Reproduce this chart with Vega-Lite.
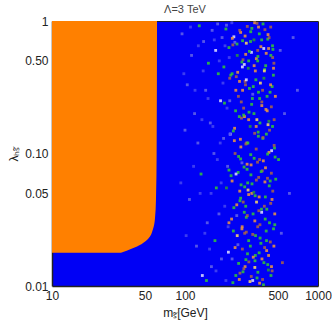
{
  "$schema": "https://vega.github.io/schema/vega-lite/v6.json",
  "width": 266,
  "height": 265,
  "autosize": {"type": "none"},
  "padding": {"left": 52, "top": 21, "right": 14, "bottom": 42},
  "title": {"text": "Λ=3 TeV", "font": "Liberation Sans", "fontSize": 11, "fontWeight": "normal", "color": "#444444", "offset": 0},
  "config": {
    "view": {"fill": "#0000f5", "stroke": null},
    "axis": {"labelFont": "Liberation Sans", "labelFontSize": 12, "labelColor": "#222222", "titleFont": "Liberation Sans", "titleFontSize": 12, "titleFontWeight": "normal", "titleColor": "#222222", "domainColor": "#222222", "domainWidth": 1.5, "ticks": false, "grid": false, "labelFlush": false, "labelOverlap": false, "labelBound": false, "zindex": 1}
  },
  "resolve": {"axis": {"x": "independent", "y": "independent"}},
  "layer": [
    {
      "data": {"values": [
        {"l": 0.0178, "x0": 10, "x1": 33},
        {"l": 0.0192, "x0": 10, "x1": 40},
        {"l": 0.0207, "x0": 10, "x1": 47},
        {"l": 0.0226, "x0": 10, "x1": 52.7},
        {"l": 0.0268, "x0": 10, "x1": 57.4},
        {"l": 0.0319, "x0": 10, "x1": 59.4},
        {"l": 0.045, "x0": 10, "x1": 60.5},
        {"l": 0.1, "x0": 10, "x1": 61.2},
        {"l": 1, "x0": 10, "x1": 61.6}
      ]},
      "mark": {"type": "area", "orient": "horizontal", "color": "#ff8000", "interpolate": "monotone"},
      "encoding": {
        "y": {"field": "l", "type": "quantitative", "scale": {"type": "log", "domain": [0.01, 1]},
              "axis": {"values": [0.01, 0.05, 0.1, 0.5, 1], "labelExpr": "datum.value >= 1 ? '1' : format(datum.value, '.2f')", "labelPadding": 4, "title": "λₕₛ̃", "titlePadding": 4}},
        "x": {"field": "x0", "type": "quantitative", "scale": {"type": "log", "domain": [10, 1000]},
              "axis": {"values": [10, 50, 100, 500, 1000], "format": "d", "labelPadding": 4, "title": "mₛ̃[GeV]", "titlePadding": 6}},
        "x2": {"field": "x1"}
      }
    },
    {
      "data": {"values": [
        {"m":205,"l":0.93,"c":"a"},{"m":318,"l":0.88,"c":"g"},{"m":262,"l":0.82,"c":"o"},{"m":441,"l":0.9,"c":"r"},
        {"m":233,"l":0.76,"c":"w"},{"m":377,"l":0.72,"c":"g"},{"m":289,"l":0.68,"c":"y"},{"m":214,"l":0.63,"c":"g"},
        {"m":352,"l":0.6,"c":"r"},{"m":408,"l":0.57,"c":"o"},{"m":247,"l":0.55,"c":"d"},{"m":301,"l":0.5,"c":"g"},
        {"m":466,"l":0.48,"c":"r"},{"m":270,"l":0.45,"c":"w"},{"m":338,"l":0.42,"c":"o"},{"m":226,"l":0.4,"c":"g"},
        {"m":392,"l":0.37,"c":"d"},{"m":283,"l":0.35,"c":"r"},{"m":452,"l":0.32,"c":"g"},{"m":241,"l":0.3,"c":"o"},
        {"m":323,"l":0.28,"c":"a"},{"m":364,"l":0.26,"c":"g"},{"m":198,"l":0.24,"c":"g"},{"m":276,"l":0.22,"c":"r"},
        {"m":415,"l":0.21,"c":"o"},{"m":256,"l":0.19,"c":"g"},{"m":347,"l":0.18,"c":"y"},{"m":309,"l":0.16,"c":"d"},
        {"m":432,"l":0.15,"c":"r"},{"m":219,"l":0.14,"c":"w"},{"m":385,"l":0.13,"c":"g"},{"m":292,"l":0.12,"c":"o"},
        {"m":471,"l":0.11,"c":"g"},{"m":238,"l":0.1,"c":"r"},{"m":331,"l":0.092,"c":"g"},{"m":268,"l":0.085,"c":"a"},
        {"m":403,"l":0.078,"c":"o"},{"m":251,"l":0.072,"c":"g"},{"m":358,"l":0.066,"c":"r"},{"m":296,"l":0.06,"c":"g"},
        {"m":205,"l":0.055,"c":"d"},{"m":318,"l":0.05,"c":"o"},{"m":262,"l":0.046,"c":"g"},{"m":441,"l":0.042,"c":"r"},
        {"m":233,"l":0.039,"c":"g"},{"m":377,"l":0.036,"c":"w"},{"m":289,"l":0.033,"c":"g"},{"m":214,"l":0.03,"c":"o"},
        {"m":352,"l":0.028,"c":"r"},{"m":408,"l":0.026,"c":"g"},{"m":247,"l":0.024,"c":"y"},{"m":301,"l":0.022,"c":"g"},
        {"m":466,"l":0.02,"c":"o"},{"m":270,"l":0.019,"c":"r"},{"m":338,"l":0.017,"c":"g"},{"m":226,"l":0.016,"c":"a"},
        {"m":392,"l":0.015,"c":"g"},{"m":283,"l":0.014,"c":"o"},{"m":452,"l":0.013,"c":"r"},{"m":241,"l":0.012,"c":"g"},
        {"m":323,"l":0.011,"c":"w"},{"m":364,"l":0.0105,"c":"o"},
        {"m":386,"l":0.95,"c":"g"},{"m":258,"l":0.85,"c":"r"},{"m":421,"l":0.79,"c":"o"},{"m":311,"l":0.7,"c":"g"},
        {"m":229,"l":0.66,"c":"r"},{"m":458,"l":0.61,"c":"g"},{"m":344,"l":0.52,"c":"o"},{"m":279,"l":0.47,"c":"w"},
        {"m":397,"l":0.43,"c":"g"},{"m":243,"l":0.38,"c":"r"},{"m":369,"l":0.34,"c":"y"},{"m":305,"l":0.31,"c":"g"},
        {"m":478,"l":0.27,"c":"o"},{"m":265,"l":0.245,"c":"r"},{"m":330,"l":0.2,"c":"g"},{"m":427,"l":0.175,"c":"d"},
        {"m":236,"l":0.155,"c":"o"},{"m":356,"l":0.135,"c":"g"},{"m":287,"l":0.118,"c":"r"},{"m":448,"l":0.105,"c":"w"},
        {"m":253,"l":0.095,"c":"g"},{"m":314,"l":0.082,"c":"o"},{"m":381,"l":0.074,"c":"r"},{"m":222,"l":0.068,"c":"g"},
        {"m":437,"l":0.062,"c":"g"},{"m":298,"l":0.053,"c":"y"},{"m":361,"l":0.047,"c":"o"},{"m":274,"l":0.043,"c":"r"},
        {"m":412,"l":0.038,"c":"g"},{"m":245,"l":0.034,"c":"a"},{"m":335,"l":0.031,"c":"o"},{"m":463,"l":0.027,"c":"g"},
        {"m":281,"l":0.025,"c":"r"},{"m":372,"l":0.021,"c":"g"},{"m":212,"l":0.018,"c":"w"},{"m":326,"l":0.0165,"c":"o"},
        {"m":419,"l":0.0145,"c":"g"},{"m":259,"l":0.0125,"c":"r"},{"m":348,"l":0.0115,"c":"g"},
        {"m":294,"l":0.91,"c":"r"},{"m":362,"l":0.8,"c":"g"},{"m":227,"l":0.74,"c":"o"},{"m":455,"l":0.65,"c":"g"},
        {"m":316,"l":0.58,"c":"w"},{"m":273,"l":0.51,"c":"r"},{"m":404,"l":0.46,"c":"g"},{"m":249,"l":0.41,"c":"o"},
        {"m":341,"l":0.36,"c":"g"},{"m":285,"l":0.33,"c":"r"},{"m":436,"l":0.29,"c":"g"},{"m":217,"l":0.25,"c":"a"},
        {"m":378,"l":0.23,"c":"o"},{"m":303,"l":0.205,"c":"g"},{"m":266,"l":0.185,"c":"r"},{"m":421,"l":0.165,"c":"y"},
        {"m":355,"l":0.145,"c":"g"},{"m":235,"l":0.125,"c":"o"},{"m":468,"l":0.115,"c":"r"},{"m":312,"l":0.098,"c":"g"},
        {"m":388,"l":0.088,"c":"o"},{"m":278,"l":0.079,"c":"g"},{"m":242,"l":0.07,"c":"w"},{"m":344,"l":0.063,"c":"r"},
        {"m":430,"l":0.057,"c":"g"},{"m":301,"l":0.049,"c":"o"},{"m":259,"l":0.044,"c":"g"},{"m":395,"l":0.04,"c":"r"},
        {"m":325,"l":0.035,"c":"g"},{"m":224,"l":0.032,"c":"o"},{"m":473,"l":0.029,"c":"g"},{"m":289,"l":0.0255,"c":"r"},
        {"m":367,"l":0.023,"c":"g"},{"m":250,"l":0.0205,"c":"a"},{"m":411,"l":0.0185,"c":"o"},{"m":336,"l":0.0155,"c":"g"},
        {"m":277,"l":0.0135,"c":"r"},{"m":443,"l":0.012,"c":"g"},{"m":308,"l":0.0108,"c":"y"},
        {"m":334,"l":0.97,"c":"o"},{"m":399,"l":0.86,"c":"r"},{"m":271,"l":0.71,"c":"g"},{"m":425,"l":0.62,"c":"o"},
        {"m":353,"l":0.54,"c":"g"},{"m":299,"l":0.44,"c":"d"},{"m":462,"l":0.39,"c":"g"},{"m":257,"l":0.35,"c":"o"},
        {"m":383,"l":0.3,"c":"r"},{"m":321,"l":0.26,"c":"g"},{"m":446,"l":0.225,"c":"r"},{"m":280,"l":0.19,"c":"o"},
        {"m":366,"l":0.17,"c":"g"},{"m":409,"l":0.14,"c":"g"},{"m":261,"l":0.128,"c":"o"},{"m":343,"l":0.108,"c":"r"},
        {"m":476,"l":0.094,"c":"g"},{"m":293,"l":0.083,"c":"o"},{"m":374,"l":0.073,"c":"g"},{"m":417,"l":0.065,"c":"r"},
        {"m":264,"l":0.058,"c":"g"},{"m":329,"l":0.051,"c":"d"},{"m":451,"l":0.045,"c":"o"},{"m":286,"l":0.04,"c":"g"},
        {"m":359,"l":0.037,"c":"r"},{"m":401,"l":0.032,"c":"g"},{"m":269,"l":0.028,"c":"o"},{"m":339,"l":0.024,"c":"g"},
        {"m":438,"l":0.0215,"c":"r"},{"m":295,"l":0.0175,"c":"g"},{"m":379,"l":0.016,"c":"o"},{"m":253,"l":0.0148,"c":"g"},
        {"m":424,"l":0.0132,"c":"d"},{"m":315,"l":0.0118,"c":"r"},{"m":389,"l":0.0102,"c":"g"},
        {"m":203,"l":0.87,"c":"g"},{"m":348,"l":0.96,"c":"r"},{"m":283,"l":0.77,"c":"o"},{"m":419,"l":0.73,"c":"g"},
        {"m":237,"l":0.69,"c":"a"},{"m":372,"l":0.64,"c":"o"},{"m":305,"l":0.59,"c":"g"},{"m":456,"l":0.53,"c":"r"},
        {"m":268,"l":0.49,"c":"g"},{"m":331,"l":0.46,"c":"o"},{"m":395,"l":0.42,"c":"y"},{"m":221,"l":0.39,"c":"g"},
        {"m":289,"l":0.36,"c":"w"},{"m":440,"l":0.33,"c":"o"},{"m":357,"l":0.29,"c":"g"},{"m":252,"l":0.27,"c":"r"},
        {"m":317,"l":0.235,"c":"g"},{"m":406,"l":0.215,"c":"o"},{"m":276,"l":0.195,"c":"g"},{"m":468,"l":0.18,"c":"r"},
        {"m":343,"l":0.16,"c":"o"},{"m":231,"l":0.148,"c":"g"},{"m":386,"l":0.132,"c":"r"},{"m":297,"l":0.12,"c":"g"},
        {"m":428,"l":0.102,"c":"o"},{"m":262,"l":0.091,"c":"g"},{"m":351,"l":0.086,"c":"r"},{"m":209,"l":0.08,"c":"a"},
        {"m":313,"l":0.069,"c":"g"},{"m":399,"l":0.061,"c":"o"},{"m":281,"l":0.056,"c":"g"},{"m":457,"l":0.052,"c":"r"},
        {"m":337,"l":0.048,"c":"g"},{"m":245,"l":0.041,"c":"o"},{"m":376,"l":0.038,"c":"g"},{"m":294,"l":0.034,"c":"r"},
        {"m":432,"l":0.03,"c":"g"},{"m":268,"l":0.027,"c":"o"},{"m":323,"l":0.0245,"c":"r"},{"m":410,"l":0.022,"c":"g"},
        {"m":238,"l":0.0195,"c":"o"},{"m":361,"l":0.0178,"c":"g"},{"m":302,"l":0.0152,"c":"r"},{"m":447,"l":0.014,"c":"o"},
        {"m":273,"l":0.0128,"c":"g"},{"m":383,"l":0.0112,"c":"r"},{"m":229,"l":0.0106,"c":"g"},{"m":335,"l":0.0138,"c":"y"},
        {"m":481,"l":0.064,"c":"g"},{"m":196,"l":0.45,"c":"g"},
        {"m":357,"l":0.9,"c":"o"},{"m":312,"l":0.83,"c":"g"},{"m":429,"l":0.75,"c":"r"},{"m":246,"l":0.67,"c":"g"},
        {"m":391,"l":0.62,"c":"w"},{"m":286,"l":0.56,"c":"o"},{"m":352,"l":0.5,"c":"g"},{"m":463,"l":0.44,"c":"o"},
        {"m":217,"l":0.37,"c":"r"},{"m":326,"l":0.32,"c":"g"},{"m":271,"l":0.3,"c":"o"},{"m":414,"l":0.27,"c":"g"},
        {"m":378,"l":0.245,"c":"r"},{"m":240,"l":0.21,"c":"g"},{"m":301,"l":0.18,"c":"o"},{"m":455,"l":0.16,"c":"g"},
        {"m":334,"l":0.142,"c":"r"},{"m":263,"l":0.112,"c":"o"},{"m":418,"l":0.099,"c":"g"},{"m":364,"l":0.09,"c":"r"},
        {"m":293,"l":0.076,"c":"g"},{"m":226,"l":0.062,"c":"o"},{"m":446,"l":0.071,"c":"r"},{"m":319,"l":0.059,"c":"g"},
        {"m":258,"l":0.052,"c":"o"},{"m":402,"l":0.047,"c":"g"},{"m":345,"l":0.043,"c":"y"},{"m":279,"l":0.036,"c":"g"},
        {"m":473,"l":0.035,"c":"o"},{"m":231,"l":0.026,"c":"g"},{"m":366,"l":0.029,"c":"r"},{"m":310,"l":0.02,"c":"g"},
        {"m":425,"l":0.017,"c":"o"},{"m":287,"l":0.0158,"c":"g"},{"m":256,"l":0.0112,"c":"o"},{"m":353,"l":0.0127,"c":"g"},
        {"m":397,"l":0.0195,"c":"r"},{"m":214,"l":0.075,"c":"g"},{"m":330,"l":0.72,"c":"d"},{"m":442,"l":0.55,"c":"g"},
        {"m":95,"l":0.8,"c":"a"},{"m":112,"l":0.55,"c":"a"},{"m":128,"l":0.92,"c":"g"},{"m":104,"l":0.33,"c":"a"},
        {"m":138,"l":0.7,"c":"a"},{"m":118,"l":0.2,"c":"a"},{"m":150,"l":0.48,"c":"g"},{"m":125,"l":0.12,"c":"a"},
        {"m":160,"l":0.85,"c":"a"},{"m":143,"l":0.3,"c":"a"},{"m":170,"l":0.6,"c":"w"},{"m":132,"l":0.07,"c":"g"},
        {"m":155,"l":0.17,"c":"a"},{"m":178,"l":0.4,"c":"g"},{"m":108,"l":0.045,"c":"a"},{"m":165,"l":0.1,"c":"a"},
        {"m":147,"l":0.03,"c":"a"},{"m":185,"l":0.25,"c":"w"},{"m":122,"l":0.02,"c":"a"},{"m":172,"l":0.055,"c":"g"},
        {"m":190,"l":0.75,"c":"a"},{"m":158,"l":0.014,"c":"a"},{"m":180,"l":0.035,"c":"a"},{"m":135,"l":0.012,"c":"w"},
        {"m":195,"l":0.13,"c":"a"},{"m":168,"l":0.022,"c":"g"},{"m":188,"l":0.016,"c":"a"},{"m":100,"l":0.15,"c":"a"},
        {"m":145,"l":0.011,"c":"g"},{"m":176,"l":0.95,"c":"a"},
        {"m":110,"l":0.9,"c":"b"},{"m":126,"l":0.65,"c":"b"},{"m":137,"l":0.42,"c":"b"},{"m":149,"l":0.26,"c":"b"},
        {"m":162,"l":0.16,"c":"b"},{"m":175,"l":0.09,"c":"b"},{"m":187,"l":0.06,"c":"b"},{"m":199,"l":0.04,"c":"b"},
        {"m":141,"l":0.025,"c":"b"},{"m":153,"l":0.019,"c":"b"},{"m":166,"l":0.72,"c":"b"},{"m":181,"l":0.5,"c":"b"},
        {"m":193,"l":0.34,"c":"b"},{"m":207,"l":0.22,"c":"b"},{"m":218,"l":0.14,"c":"b"},{"m":116,"l":0.08,"c":"b"},
        {"m":130,"l":0.05,"c":"b"},{"m":102,"l":0.024,"c":"b"},{"m":171,"l":0.013,"c":"b"},{"m":203,"l":0.011,"c":"b"},
        {"m":215,"l":0.53,"c":"b"},{"m":225,"l":0.97,"c":"b"},{"m":98,"l":0.4,"c":"b"},{"m":119,"l":0.3,"c":"b"},
        {"m":157,"l":0.05,"c":"b"},{"m":184,"l":0.12,"c":"b"},{"m":200,"l":0.65,"c":"b"},{"m":211,"l":0.028,"c":"b"},
        {"m":93,"l":0.06,"c":"b"},{"m":134,"l":0.18,"c":"b"},
        {"m":520,"l":0.6,"c":"a"},{"m":560,"l":0.2,"c":"a"},{"m":610,"l":0.05,"c":"a"},{"m":540,"l":0.015,"c":"r"},
        {"m":700,"l":0.3,"c":"a"},{"m":505,"l":0.09,"c":"g"},{"m":650,"l":0.75,"c":"a"},{"m":530,"l":0.025,"c":"a"}
      ]},
      "mark": {"type": "square", "size": 8, "opacity": 0.85, "clip": true},
      "encoding": {
        "x": {"field": "m", "type": "quantitative", "scale": {"type": "log", "domain": [10, 1000]},
              "axis": {"orient": "top", "labels": false, "title": null, "domainWidth": 1}},
        "y": {"field": "l", "type": "quantitative", "scale": {"type": "log", "domain": [0.01, 1]},
              "axis": {"orient": "right", "labels": false, "title": null, "domainWidth": 1}},
        "color": {"field": "c", "type": "nominal", "legend": null,
                  "scale": {"domain": ["a", "b", "w", "g", "d", "o", "r", "y"],
                            "range": ["#6464e6", "#4646f0", "#e0e0ff", "#32c832", "#28963c", "#f0963c", "#aa6446", "#ffdc64"]}}
      }
    }
  ]
}
